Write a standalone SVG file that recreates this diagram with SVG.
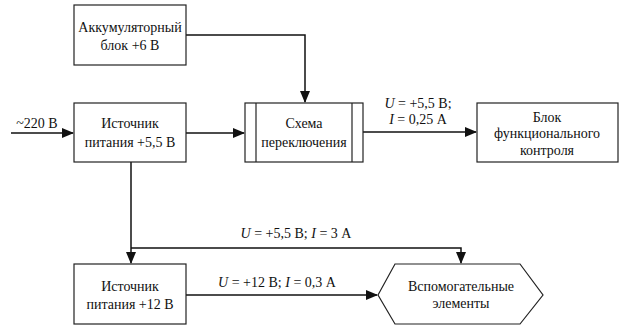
<svg xmlns="http://www.w3.org/2000/svg" width="622" height="326" viewBox="0 0 622 326">
<style>
.b{fill:#fff;stroke:#222;stroke-width:1.2}
.c{fill:none;stroke:#111;stroke-width:1.5}
.i{font-style:italic}
</style>
<defs>
<marker id="a" markerWidth="12" markerHeight="10" refX="11" refY="5" orient="auto" markerUnits="userSpaceOnUse">
<path d="M0,0 L12,5 L0,10 z" fill="#111"/>
</marker>
</defs>
<g id="connectors">
<path class="c" d="M186,35 H305 V102" marker-end="url(#a)"/>
<path class="c" d="M11,133 H73" marker-end="url(#a)"/>
<path class="c" d="M186,133 H244" marker-end="url(#a)"/>
<path class="c" d="M363,132 H476" marker-end="url(#a)"/>
<path class="c" d="M131,162 V263" marker-end="url(#a)"/>
<path class="c" d="M131,248 H461 V263" marker-end="url(#a)"/>
<path class="c" d="M186,295 H377" marker-end="url(#a)"/>
<text x="37" y="128" font-family="Liberation Serif" font-size="14" fill="#111" text-anchor="middle">~220 В</text>
<text x="418" y="108" font-family="Liberation Serif" font-size="14" fill="#111" text-anchor="middle"><tspan class="i">U</tspan> = +5,5 В;</text>
<text x="418" y="124" font-family="Liberation Serif" font-size="14" fill="#111" text-anchor="middle"><tspan class="i">I</tspan> = 0,25 А</text>
<text x="296" y="238" font-family="Liberation Serif" font-size="14" fill="#111" text-anchor="middle"><tspan class="i">U</tspan> = +5,5 В; <tspan class="i">I</tspan> = 3 А</text>
<text x="277" y="287" font-family="Liberation Serif" font-size="14" fill="#111" text-anchor="middle"><tspan class="i">U</tspan> = +12 В; <tspan class="i">I</tspan> = 0,3 А</text>
</g>
<g id="accum">
<rect class="b" x="74" y="5" width="112" height="60"/>
<text x="130" y="32" font-family="Liberation Serif" font-size="14" fill="#111" text-anchor="middle">Аккумуляторный</text>
<text x="130" y="50" font-family="Liberation Serif" font-size="14" fill="#111" text-anchor="middle">блок +6 В</text>
</g>
<g id="src55">
<rect class="b" x="74" y="103" width="112" height="59"/>
<text x="130" y="128" font-family="Liberation Serif" font-size="14" fill="#111" text-anchor="middle">Источник</text>
<text x="130" y="147" font-family="Liberation Serif" font-size="14" fill="#111" text-anchor="middle">питания +5,5 В</text>
</g>
<g id="switch">
<rect class="b" x="245" y="103" width="118" height="59"/>
<line class="b" x1="256" y1="103" x2="256" y2="162"/>
<line class="b" x1="352" y1="103" x2="352" y2="162"/>
<text x="304" y="128" font-family="Liberation Serif" font-size="14" fill="#111" text-anchor="middle">Схема</text>
<text x="304" y="147" font-family="Liberation Serif" font-size="14" fill="#111" text-anchor="middle">переключения</text>
</g>
<g id="control">
<rect class="b" x="477" y="103" width="141" height="59"/>
<text x="547" y="122" font-family="Liberation Serif" font-size="14" fill="#111" text-anchor="middle">Блок</text>
<text x="547" y="138" font-family="Liberation Serif" font-size="14" fill="#111" text-anchor="middle">функционального</text>
<text x="547" y="155" font-family="Liberation Serif" font-size="14" fill="#111" text-anchor="middle">контроля</text>
</g>
<g id="src12">
<rect class="b" x="74" y="264" width="112" height="60"/>
<text x="130" y="291" font-family="Liberation Serif" font-size="14" fill="#111" text-anchor="middle">Источник</text>
<text x="130" y="309" font-family="Liberation Serif" font-size="14" fill="#111" text-anchor="middle">питания +12 В</text>
</g>
<g id="aux">
<polygon class="b" points="378,295 395,264 520,264 543,295 520,324 395,324"/>
<text x="461" y="291" font-family="Liberation Serif" font-size="14" fill="#111" text-anchor="middle">Вспомогательные</text>
<text x="461" y="308" font-family="Liberation Serif" font-size="14" fill="#111" text-anchor="middle">элементы</text>
</g>
</svg>
